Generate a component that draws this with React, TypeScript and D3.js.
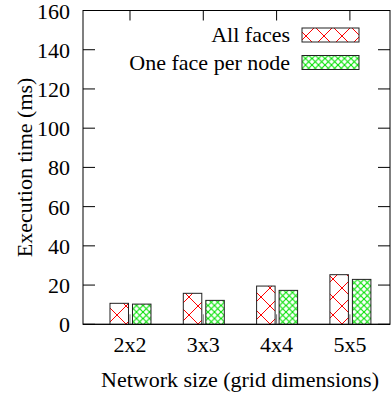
import * as d3 from "d3";
import { useEffect, useRef } from "react";

const categories = ["2x2", "3x3", "4x4", "5x5"];
const allFaces = [10.7, 15.8, 19.5, 25.3];
const onePerNode = [10.3, 12.2, 17.3, 22.9];
const yTicks = [0, 20, 40, 60, 80, 100, 120, 140, 160];
const seriesNames = ["All faces", "One face per node"];

export default function App() {
  const ref = useRef<SVGSVGElement>(null);

  useEffect(() => {
    const svg = d3.select(ref.current);
    svg.selectAll("*").remove();

    const left = 83, right = 390, top = 10.5, bottom = 324.3;
    const font = "'Liberation Serif', 'Times New Roman', serif";
    const fs = 22;

    const x = d3.scaleLinear().domain([-0.641, 3.547]).range([left, right]);
    const y = d3.scaleLinear().domain([0, 160]).range([bottom, top]);

    // patterns
    const defs = svg.append("defs");
    const big = defs.append("pattern").attr("id", "redx")
      .attr("patternUnits", "userSpaceOnUse").attr("width", 18).attr("height", 18);
    big.append("rect").attr("width", 18).attr("height", 18).attr("fill", "white");
    big.append("path").attr("d", "M0,0L18,18M18,0L0,18")
      .attr("stroke", "#ff0000").attr("stroke-width", 1);
    const small = defs.append("pattern").attr("id", "greenx")
      .attr("patternUnits", "userSpaceOnUse").attr("width", 6.5).attr("height", 6.5);
    small.append("rect").attr("width", 6.5).attr("height", 6.5).attr("fill", "white");
    small.append("path").attr("d", "M0,0L6.5,6.5M6.5,0L0,6.5")
      .attr("stroke", "#00e000").attr("stroke-width", 1.1);
    const fills = ["url(#redx)", "url(#greenx)"];

    // frame
    svg.append("rect")
      .attr("x", left).attr("y", top)
      .attr("width", right - left).attr("height", bottom - top)
      .attr("fill", "none").attr("stroke", "black").attr("stroke-width", 1);

    // y ticks
    const g = svg.append("g");
    yTicks.forEach(t => {
      g.append("line").attr("x1", left).attr("x2", left + 12)
        .attr("y1", y(t)).attr("y2", y(t)).attr("stroke", "black");
      g.append("line").attr("x1", right - 12).attr("x2", right)
        .attr("y1", y(t)).attr("y2", y(t)).attr("stroke", "black");
      g.append("text").attr("x", 70).attr("y", y(t) + 8)
        .attr("text-anchor", "end").attr("font-family", font).attr("font-size", fs)
        .text(t);
    });

    // x ticks
    categories.forEach((c, i) => {
      g.append("line").attr("x1", x(i)).attr("x2", x(i))
        .attr("y1", bottom).attr("y2", bottom - 10).attr("stroke", "#777");
      g.append("line").attr("x1", x(i)).attr("x2", x(i))
        .attr("y1", top).attr("y2", top + 10).attr("stroke", "black");
      g.append("text").attr("x", x(i)).attr("y", 352)
        .attr("text-anchor", "middle").attr("font-family", font).attr("font-size", fs)
        .text(c);
    });

    // bars
    const barW = 18.5;
    const offsets = [-20, 2.5];
    [allFaces, onePerNode].forEach((vals, s) => {
      svg.append("g").selectAll("rect").data(vals).enter().append("rect")
        .attr("x", (d, i) => x(i) + offsets[s])
        .attr("y", d => y(d))
        .attr("width", barW)
        .attr("height", d => y(0) - y(d))
        .attr("fill", fills[s])
        .attr("stroke", "#222").attr("stroke-width", 1);
    });

    // redraw baseline on top
    svg.append("line").attr("x1", left).attr("x2", right)
      .attr("y1", bottom).attr("y2", bottom).attr("stroke", "black");

    // legend
    seriesNames.forEach((n, s) => {
      const ly = 35 + s * 27.5;
      svg.append("text").attr("x", 290).attr("y", ly + 7)
        .attr("text-anchor", "end").attr("font-family", font).attr("font-size", fs)
        .text(n);
      svg.append("rect").attr("x", 302).attr("y", ly - 7)
        .attr("width", 57).attr("height", 14)
        .attr("fill", fills[s]).attr("stroke", "#222").attr("stroke-width", 1);
    });

    // axis titles
    svg.append("text").attr("x", 240).attr("y", 387)
      .attr("text-anchor", "middle").attr("font-family", font).attr("font-size", fs)
      .text("Network size (grid dimensions)");
    svg.append("text")
      .attr("transform", `translate(32,${(top + bottom) / 2}) rotate(-90)`)
      .attr("text-anchor", "middle").attr("font-family", font).attr("font-size", fs)
      .text("Execution time (ms)");
  }, []);

  return (
    <svg ref={ref} width={391} height={398}
      style={{ position: "absolute", left: 0, top: 0, background: "white" }} />
  );
}
